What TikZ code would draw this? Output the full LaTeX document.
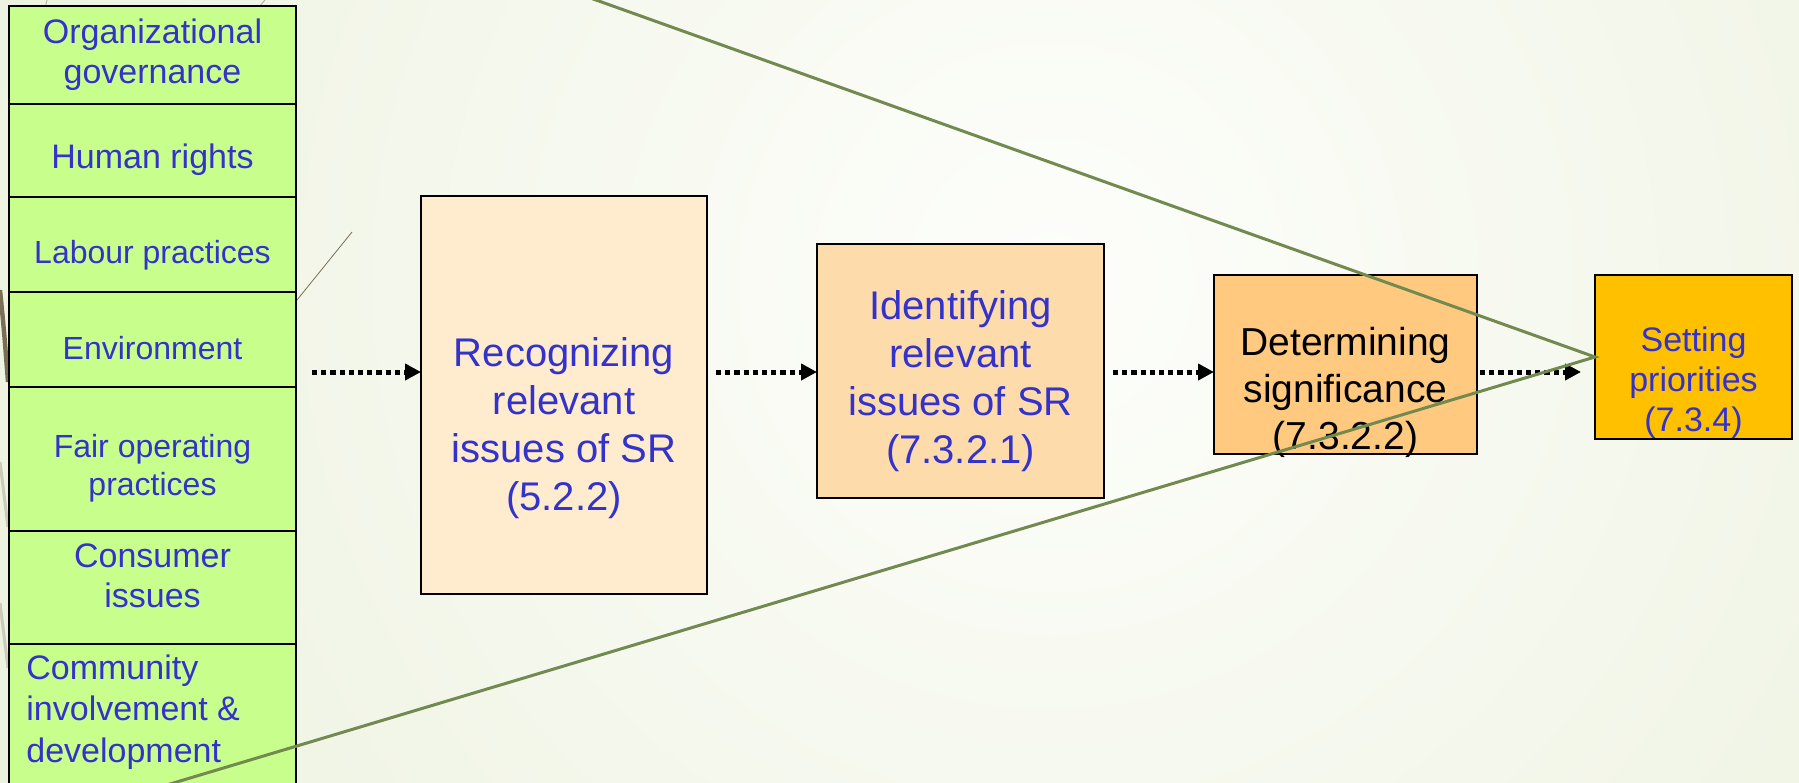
\documentclass[tikz,border=0pt]{standalone}
\usepackage{fontspec}
\setmainfont{Liberation Sans}
\usetikzlibrary{positioning,arrows.meta}
\definecolor{cellgreen}{RGB}{200,255,140}
\definecolor{txtblue}{RGB}{51,51,204}
\definecolor{recfill}{RGB}{255,235,205}
\definecolor{identfill}{RGB}{254,219,170}
\definecolor{detfill}{RGB}{255,202,128}
\definecolor{setfill}{RGB}{255,192,0}
\definecolor{wedgegreen}{RGB}{114,138,80}
\definecolor{bgpale}{RGB}{225,233,203}
\definecolor{bgwhite}{RGB}{253,254,251}
\definecolor{wisp}{RGB}{122,110,85}
\definecolor{wisplight}{RGB}{204,202,184}
\tikzset{
  issue/.style={draw=black, line width=1pt, fill=cellgreen, minimum width=143.5pt, inner sep=0pt, outer sep=0pt},
  issuetext/.style={text=txtblue, align=center, inner sep=0pt, font=\fontsize{17}{20}\selectfont},
  smallissue/.style={issuetext, font=\fontsize{16}{19}\selectfont},
  stepbox/.style={draw=black, line width=1pt, inner sep=0pt, outer sep=0pt},
  steptext/.style={text=txtblue, align=center, inner sep=0pt, font=\fontsize{20}{24}\selectfont},
  flow/.style={line width=2.5pt, dash pattern=on 2.6pt off 2pt, -{Triangle[length=8pt,width=8pt]}},
  scopeline/.style={draw=wedgegreen, line width=1.5pt},
}
\begin{document}
\begin{tikzpicture}[x=0.5pt,y=-0.5pt]
  \useasboundingbox (0,0) rectangle (1799,782);
  \clip (0,0) rectangle (1799,782);
  \fill[bgpale] (0,0) rectangle (1799,782);
  \shade[inner color=bgwhite, outer color=bgpale] (1050,280) circle[radius=1000pt];
  \draw[wisp, line width=2.2pt] (0,290) .. controls (4,330) .. (8,382);
  \draw[wisplight, line width=1.5pt] (0,462) -- (8,527);
  \draw[wisplight, line width=1.5pt] (0,603) -- (8,668);
  \draw[wisp, line width=0.4pt] (297,300) -- (352,232);
  \draw[wisp!60, line width=0.4pt] (47,0) -- (45,8);
  \draw[wisp!60, line width=0.4pt] (265,0) -- (259,7);

  \node[issue, minimum height=49pt, anchor=north west] (gov) at (9,6) {};
  \node[issue, minimum height=46.5pt, below=0pt of gov] (hr) {};
  \node[issue, minimum height=47.5pt, below=0pt of hr] (lab) {};
  \node[issue, minimum height=47.5pt, below=0pt of lab] (env) {};
  \node[issue, minimum height=72pt, below=0pt of env] (fop) {};
  \node[issue, minimum height=56.5pt, below=0pt of fop] (cons) {};
  \node[issue, minimum height=80pt, below=0pt of cons] (comm) {};

  \node[issuetext] (govtxt) at (gov.center) {Organizational\\governance};
  \node[issuetext] (hrtxt) at ([yshift=-4.5pt]hr.center) {Human rights};
  \node[smallissue] (labtxt) at ([yshift=-5.5pt]lab.center) {Labour practices};
  \node[smallissue] (envtxt) at ([yshift=-4.5pt]env.center) {Environment};
  \node[smallissue] (foptxt) at ([yshift=-4.5pt]fop.center) {Fair operating\\practices};
  \node[issuetext] (constxt) at ([yshift=6pt]cons.center) {Consumer\\issues};
  \node[issuetext, align=left, anchor=west, font=\fontsize{17}{20.7}\selectfont] (commtxt) at (26,712) {Community\\involvement \&\\development};

  \node[stepbox, fill=recfill, minimum width=143pt, minimum height=199pt] (rec) at (564,395) {};
  \node[stepbox, fill=identfill, minimum width=143.5pt, minimum height=127pt] (ident) at (960.5,371) {};
  \node[stepbox, fill=detfill, minimum width=131.5pt, minimum height=89.5pt] (det) at (1345.5,364.5) {};
  \node[stepbox, fill=setfill, minimum width=98.5pt, minimum height=82pt] (setp) at (1693.5,357) {};

  \node[steptext] (rectxt) at (564,428) {Recognizing\\relevant\\issues of SR\\(5.2.2)};
  \node[steptext] (identtxt) at (960.5,381) {Identifying\\relevant\\issues of SR\\(7.3.2.1)};
  \node[steptext, text=black, font=\fontsize{19.5}{23.5}\selectfont] (dettxt) at (1345.5,392) {Determining\\significance\\(7.3.2.2)};
  \node[steptext, font=\fontsize{17}{20}\selectfont] (settxt) at (1693.5,383) {Setting\\priorities\\(7.3.4)};

  \coordinate (flowline) at (0,372);
  \draw[flow, shorten <=8pt] (env.east |- flowline) -- (rec.west |- flowline);
  \draw[flow, shorten <=4.5pt] (rec.east |- flowline) -- (ident.west |- flowline);
  \draw[flow, shorten <=4.5pt] (ident.east |- flowline) -- (det.west |- flowline);
  \draw[flow, shorten <=1.5pt, shorten >=7pt] (det.east |- flowline) -- (setp.west |- flowline);

  \coordinate (topend) at (568,-10);
  \coordinate (botend) at (150,790);
  \draw[scopeline] (topend) -- (setp.west) -- (botend);
\end{tikzpicture}
\end{document}
